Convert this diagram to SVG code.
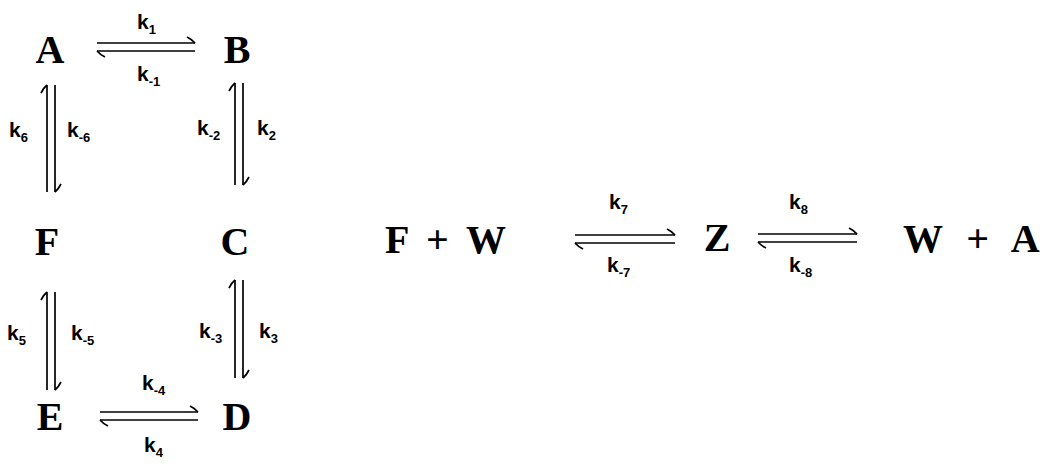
<svg xmlns="http://www.w3.org/2000/svg" width="1056" height="469" viewBox="0 0 1056 469">
<style>
.sp{font-family:"Liberation Serif","Times New Roman",serif;font-weight:bold;font-size:40px;fill:#000}
.k{font-family:"Liberation Sans",Arial,sans-serif;font-weight:bold;font-size:21px;fill:#000}
.sub{font-size:13px}
.ln{stroke:#000;stroke-width:1.7;fill:none;marker-end:url(#hp)}
</style>
<defs>
<marker id="hp" markerUnits="userSpaceOnUse" viewBox="-12 -8 14 12" refX="0" refY="0" markerWidth="14" markerHeight="12" orient="auto" overflow="visible">
<path d="M -8,-6 Q -3,-3.5 0,0" stroke="#000" stroke-width="1.7" fill="none"/>
</marker>
</defs>
<rect width="1056" height="469" fill="#fff"/>
<g id="connectors">
<path class="ln" d="M97,43 H195"/>
<path class="ln" d="M195,51 H97"/>
<path class="ln" d="M100,412 H198"/>
<path class="ln" d="M198,420 H100"/>
<path class="ln" d="M575,235 H675"/>
<path class="ln" d="M675,243 H575"/>
<path class="ln" d="M758,234 H857"/>
<path class="ln" d="M857,242 H758"/>
<path class="ln" d="M55,85 V192"/>
<path class="ln" d="M47,192 V85"/>
<path class="ln" d="M243,83 V185"/>
<path class="ln" d="M235,185 V83"/>
<path class="ln" d="M55,292 V390"/>
<path class="ln" d="M47,390 V292"/>
<path class="ln" d="M243,280 V378"/>
<path class="ln" d="M235,378 V280"/>
</g>
<g id="labels">
<text class="k" x="137" y="29">k<tspan class="sub" dy="5">1</tspan></text>
<text class="k" x="137" y="81">k<tspan class="sub" dy="5">-1</tspan></text>
<text class="k" x="9" y="137">k<tspan class="sub" dy="5">6</tspan></text>
<text class="k" x="67" y="137">k<tspan class="sub" dy="5">-6</tspan></text>
<text class="k" x="197" y="135">k<tspan class="sub" dy="5">-2</tspan></text>
<text class="k" x="257" y="135">k<tspan class="sub" dy="5">2</tspan></text>
<text class="k" x="7" y="340">k<tspan class="sub" dy="5">5</tspan></text>
<text class="k" x="71" y="340">k<tspan class="sub" dy="5">-5</tspan></text>
<text class="k" x="199" y="338">k<tspan class="sub" dy="5">-3</tspan></text>
<text class="k" x="259" y="338">k<tspan class="sub" dy="5">3</tspan></text>
<text class="k" x="142" y="390">k<tspan class="sub" dy="5">-4</tspan></text>
<text class="k" x="144" y="452">k<tspan class="sub" dy="5">4</tspan></text>
<text class="k" x="609" y="209">k<tspan class="sub" dy="5">7</tspan></text>
<text class="k" x="607" y="272">k<tspan class="sub" dy="5">-7</tspan></text>
<text class="k" x="789" y="209">k<tspan class="sub" dy="5">8</tspan></text>
<text class="k" x="789" y="272">k<tspan class="sub" dy="5">-8</tspan></text>
</g>
<g id="node-A"><text class="sp" x="50" y="63" text-anchor="middle">A</text></g>
<g id="node-B"><text class="sp" x="237" y="63" text-anchor="middle">B</text></g>
<g id="node-F"><text class="sp" x="47" y="255" text-anchor="middle">F</text></g>
<g id="node-C"><text class="sp" x="235" y="255" text-anchor="middle">C</text></g>
<g id="node-E"><text class="sp" x="50" y="430" text-anchor="middle">E</text></g>
<g id="node-D"><text class="sp" x="237" y="430" text-anchor="middle">D</text></g>
<g id="node-FW"><text class="sp" x="385" y="253" word-spacing="8">F + W</text></g>
<g id="node-Z"><text class="sp" x="717" y="251" text-anchor="middle">Z</text></g>
<g id="node-WA"><text class="sp" x="903" y="252" word-spacing="14">W + A</text></g>
</svg>
